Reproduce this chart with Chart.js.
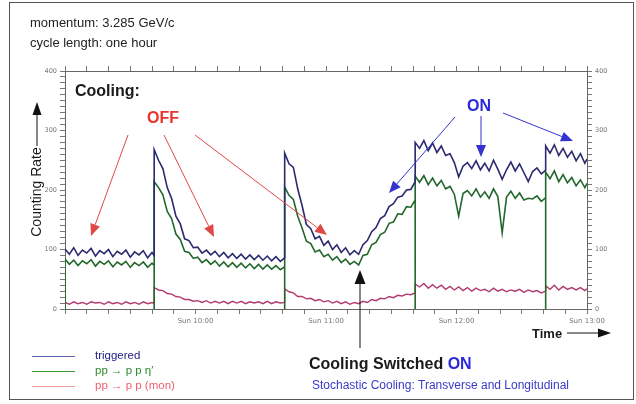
<!DOCTYPE html>
<html>
<head>
<meta charset="utf-8">
<script src="https://cdn.jsdelivr.net/npm/chart.js@4.4.1/dist/chart.umd.min.js"></script>
<style>
  html, body { margin: 0; padding: 0; background: #fff; }
  #wrap { width: 636px; height: 404px; }
</style>
</head>
<body>
<div id="wrap"><canvas id="chart" width="636" height="404"></canvas></div>
<script>
// Zeit in Minuten ab 9:00, jeder Zyklus beginnt mit einer Injektion
const segStart = [0, 41, 101, 161, 221];
const segEnd = [41, 101, 161, 221, 240];
const sampleStep = 2;

// Achsenbeschriftung
const hourTicks = [60, 120, 180, 240];
const hourLabels = ["Sun 10:00", "Sun 11:00", "Sun 12:00", "Sun 13:00"];
const rateTicks = [0, 100, 200, 300, 400];

// triggered
const trigger = [
  [101, 92, 103, 90, 99, 94, 102, 89, 98, 93, 100, 88, 97, 92, 99, 87, 96, 91, 98, 86, 95, 90],
  [268, 250, 236, 204, 186, 156, 143, 118, 115, 103, 104, 94, 99, 91, 97, 88, 95, 86, 93, 85, 92, 84, 91, 83, 90, 82, 89, 81, 88, 80, 86],
  [262, 244, 238, 202, 174, 142, 135, 118, 122, 107, 114, 100, 108, 95, 103, 91, 98, 92, 108, 115, 130, 137, 152, 157, 172, 177, 188, 190, 200, 201, 214],
  [280, 270, 283, 266, 279, 263, 274, 258, 261, 246, 222, 240, 246, 236, 249, 234, 245, 232, 250, 235, 218, 234, 247, 232, 244, 229, 214, 231, 237, 227, 233],
  [274, 262, 276, 258, 270, 255, 265, 249, 261, 245, 252]
];
// pp -> p p eta'
const etaPrime = [
  [84, 75, 82, 73, 81, 76, 83, 72, 80, 75, 81, 71, 79, 74, 80, 70, 78, 73, 79, 70, 77, 73],
  [214, 204, 192, 164, 152, 126, 117, 97, 95, 85, 87, 78, 83, 75, 81, 72, 79, 71, 78, 70, 77, 69, 76, 68, 75, 67, 74, 67, 73, 66, 71],
  [205, 191, 184, 156, 136, 114, 110, 96, 99, 88, 92, 82, 88, 78, 84, 75, 80, 74, 90, 92, 108, 112, 125, 129, 144, 146, 160, 159, 172, 171, 183],
  [223, 213, 224, 209, 220, 207, 216, 202, 206, 193, 156, 194, 199, 190, 202, 188, 197, 186, 202, 189, 128, 188, 198, 186, 195, 183, 186, 185, 190, 181, 187],
  [230, 219, 232, 214, 226, 212, 221, 207, 217, 204, 211]
];
// pp -> p p (Monitor)
const monitor = [
  [11, 8, 12, 9, 11, 8, 12, 10, 11, 8, 12, 9, 11, 8, 12, 9, 11, 8, 12, 9, 11, 9],
  [36, 32, 31, 26, 25, 21, 20, 16, 16, 13, 14, 11, 14, 10, 13, 10, 13, 9, 13, 10, 13, 9, 12, 10, 12, 9, 13, 9, 12, 10, 11],
  [34, 29, 27, 21, 21, 17, 18, 14, 16, 12, 14, 10, 13, 9, 12, 8, 11, 9, 13, 11, 16, 14, 18, 17, 21, 19, 23, 22, 25, 24, 27],
  [42, 37, 43, 35, 41, 35, 40, 33, 38, 32, 37, 31, 36, 30, 35, 31, 33, 29, 35, 30, 33, 29, 32, 30, 33, 28, 32, 29, 31, 27, 30],
  [39, 33, 40, 32, 38, 33, 36, 32, 36, 31, 34]
];

// Segmente in Punkte umwandeln (letzter Punkt = Segmentende)
function toPoints(segs, dropToZero) {
  let pts = [];
  segs.forEach(function (vals, s) {
    if (dropToZero) pts.push({x: segStart[s], y: 0});
    vals.forEach(function (v, i) {
      let t = segStart[s] + i * sampleStep;
      if (i === vals.length - 1) t = segEnd[s];
      pts.push({x: t, y: v});
    });
  });
  return pts;
}

function arrow(ctx, x1, y1, x2, y2, color, len, half) {
  let a = Math.atan2(y2 - y1, x2 - x1);
  let bx = x2 - len * Math.cos(a), by = y2 - len * Math.sin(a);
  ctx.strokeStyle = color;
  ctx.fillStyle = color;
  ctx.lineWidth = 1;
  ctx.beginPath();
  ctx.moveTo(x1, y1);
  ctx.lineTo(bx, by);
  ctx.stroke();
  ctx.beginPath();
  ctx.moveTo(x2, y2);
  ctx.lineTo(bx + half * Math.sin(a), by - half * Math.cos(a));
  ctx.lineTo(bx - half * Math.sin(a), by + half * Math.cos(a));
  ctx.closePath();
  ctx.fill();
}

const bgPlugin = {
  id: "bg",
  beforeDraw(chart) {
    let ctx = chart.ctx;
    ctx.save();
    ctx.fillStyle = "#fff";
    ctx.fillRect(0, 0, chart.width, chart.height);
    ctx.restore();
  }
};

// Beschriftungen, Pfeile und Legende wie im Original
const notesPlugin = {
  id: "notes",
  afterDraw(chart) {
    let ctx = chart.ctx;
    ctx.save();
    ctx.strokeStyle = "#555";
    ctx.lineWidth = 1;
    ctx.strokeRect(9.5, 2.5, 624, 397);

    ctx.textBaseline = "alphabetic";
    ctx.textAlign = "left";
    ctx.fillStyle = "#222";
    ctx.font = "13px 'Liberation Sans', Arial, sans-serif";
    ctx.fillText("momentum: 3.285 GeV/c", 30, 27);
    ctx.fillText("cycle length: one hour", 30, 47);

    ctx.font = "bold 16px 'Liberation Sans', Arial, sans-serif";
    ctx.fillStyle = "#1a1a1a";
    ctx.fillText("Cooling:", 75, 96);
    ctx.fillStyle = "#e8342c";
    ctx.fillText("OFF", 147, 123);
    ctx.fillStyle = "#2a2ad8";
    ctx.fillText("ON", 467, 111);

    // OFF Pfeile
    arrow(ctx, 128, 135, 91, 236, "#e04848", 12, 5);
    arrow(ctx, 164, 135, 214, 237, "#e04848", 12, 5);
    arrow(ctx, 195, 135, 327, 235, "#e04848", 12, 5);
    // ON Pfeile
    arrow(ctx, 455, 117, 389, 193, "#3434d0", 12, 5);
    arrow(ctx, 481, 116, 481, 157, "#3434d0", 12, 5);
    arrow(ctx, 503, 113, 573, 141, "#3434d0", 12, 5);
    // Cooling switched on
    arrow(ctx, 360, 348, 360, 270, "#111", 14, 5.5);

    ctx.font = "bold 16px 'Liberation Sans', Arial, sans-serif";
    ctx.fillStyle = "#1a1a1a";
    ctx.fillText("Cooling Switched ", 309, 369);
    let w = ctx.measureText("Cooling Switched ").width;
    ctx.fillStyle = "#2a2ad8";
    ctx.fillText("ON", 309 + w, 369);
    ctx.font = "12px 'Liberation Sans', Arial, sans-serif";
    ctx.fillStyle = "#3a3ac8";
    ctx.fillText("Stochastic Cooling: Transverse and Longitudinal", 312, 389);

    // Time-Achse
    ctx.font = "bold 13px 'Liberation Sans', Arial, sans-serif";
    ctx.fillStyle = "#1a1a1a";
    ctx.fillText("Time", 532, 338);
    arrow(ctx, 567, 333, 611, 333, "#111", 13, 4.5);

    // Counting Rate
    ctx.save();
    ctx.translate(41, 192);
    ctx.rotate(-Math.PI / 2);
    ctx.textAlign = "center";
    ctx.font = "14px 'Liberation Sans', Arial, sans-serif";
    ctx.fillStyle = "#1a1a1a";
    ctx.fillText("Counting Rate", 0, 0);
    ctx.restore();
    arrow(ctx, 37, 146, 37, 102, "#111", 13, 4.5);

    // Legende
    let legend = [
      ["triggered", "#6060b0", "#22228a", 356],
      ["pp \u2192 p p \u03b7\u2032", "#3a9a3a", "#2a8a2a", 371],
      ["pp \u2192 p p (mon)", "#f2a0a0", "#ee6070", 386]
    ];
    ctx.font = "11.5px 'Liberation Sans', Arial, sans-serif";
    ctx.textBaseline = "middle";
    legend.forEach(function (l) {
      ctx.strokeStyle = l[1];
      ctx.lineWidth = 1;
      ctx.beginPath();
      ctx.moveTo(32, l[3] + 0.5);
      ctx.lineTo(75, l[3] + 0.5);
      ctx.stroke();
      ctx.fillStyle = l[2];
      ctx.fillText(l[0], 95, l[3]);
    });
    ctx.restore();
  }
};

const grid = {
  drawOnChartArea: false,
  drawTicks: true,
  tickLength: 5,
  color: "#777",
  lineWidth: 1
};
const border = { display: true, color: "#666", width: 1 };
const tickFontY = { size: 6.5, family: "'DejaVu Sans', sans-serif" };

function yLabel(v) {
  return rateTicks.indexOf(v) >= 0 ? String(v) : "";
}
function xLabel(v) {
  let i = hourTicks.indexOf(v);
  return i >= 0 ? hourLabels[i] : "";
}

let chart = new Chart(document.getElementById("chart"), {
  type: "line",
  data: {
    datasets: [
      {
        label: "triggered",
        data: toPoints(trigger, false),
        borderColor: "#2a2a70",
        borderWidth: 1.6
      },
      {
        label: "pp -> p p eta'",
        data: toPoints(etaPrime, true),
        borderColor: "#22682c",
        borderWidth: 1.6
      },
      {
        label: "pp -> p p (mon)",
        data: toPoints(monitor, false),
        borderColor: "#b23a6e",
        borderWidth: 1.4
      }
    ]
  },
  options: {
    responsive: false,
    animation: false,
    layout: { padding: 0 },
    elements: { point: { radius: 0 }, line: { tension: 0 } },
    plugins: {
      legend: { display: false },
      tooltip: { enabled: false }
    },
    scales: {
      x: {
        type: "linear",
        position: "bottom",
        min: 0,
        max: 240,
        grid: grid,
        border: border,
        ticks: {
          stepSize: 10,
          autoSkip: false,
          maxRotation: 0,
          padding: 3,
          color: "#777",
          font: { size: 7, family: "'DejaVu Sans', sans-serif" },
          callback: xLabel
        },
        afterFit(scale) { scale.height = 404 - 309; }
      },
      xTop: {
        type: "linear",
        position: "top",
        min: 0,
        max: 240,
        grid: grid,
        border: border,
        ticks: { stepSize: 10, autoSkip: false, callback: function () { return ""; } },
        afterFit(scale) { scale.height = 71; }
      },
      y: {
        position: "left",
        min: 0,
        max: 400,
        grid: grid,
        border: border,
        ticks: {
          stepSize: 10,
          autoSkip: false,
          padding: 3,
          color: "#777",
          font: tickFontY,
          callback: yLabel
        },
        afterFit(scale) { scale.width = 65; }
      },
      yRight: {
        position: "right",
        min: 0,
        max: 400,
        grid: grid,
        border: border,
        ticks: {
          stepSize: 10,
          autoSkip: false,
          padding: 3,
          color: "#777",
          font: tickFontY,
          callback: yLabel
        },
        afterFit(scale) { scale.width = 636 - 587; }
      }
    }
  },
  plugins: [bgPlugin, notesPlugin]
});
</script>
</body>
</html>
